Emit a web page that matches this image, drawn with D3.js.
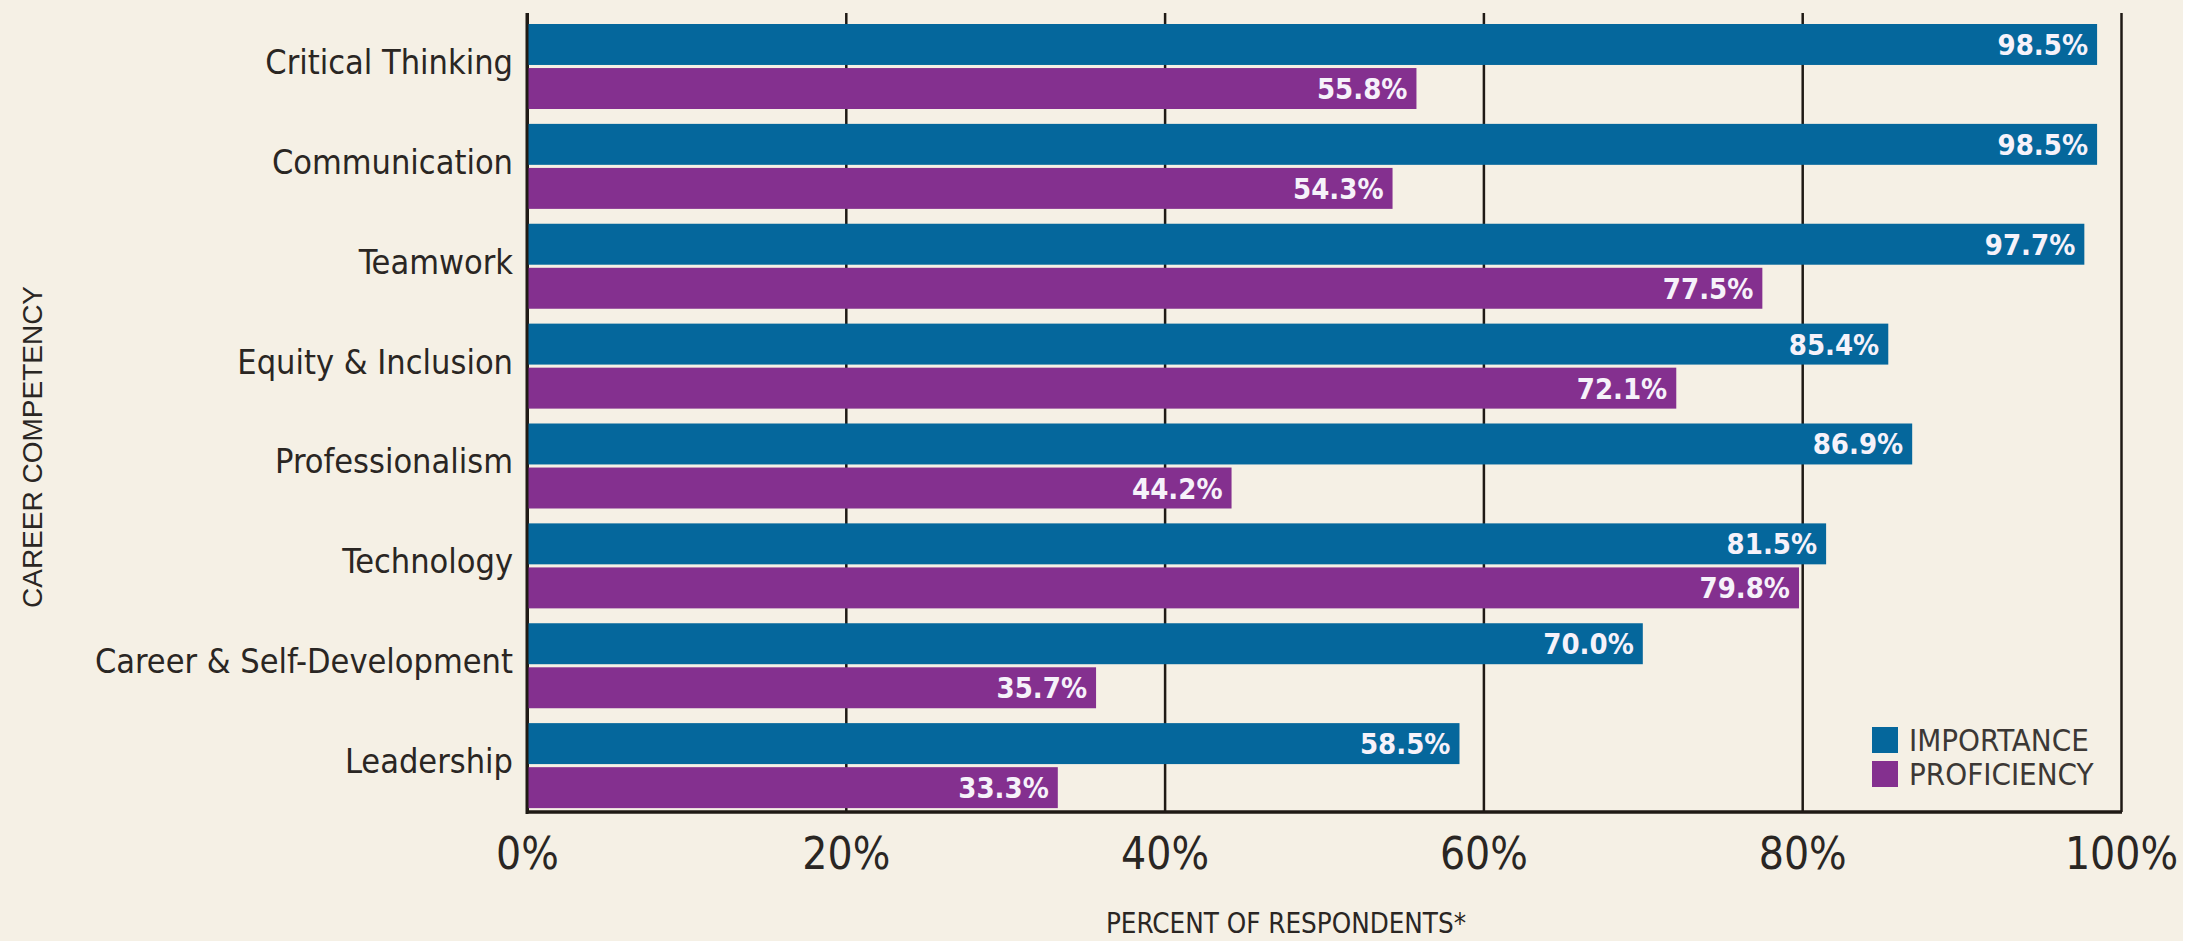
<!DOCTYPE html>
<html>
<head>
<meta charset="utf-8">
<script src="https://cdn.jsdelivr.net/npm/d3@7"></script>
<style>
  html, body { margin: 0; padding: 0; background: #ffffff; }
  svg { display: block; }
</style>
</head>
<body>
<svg id="chart" width="2198" height="941"></svg>
<script>
const categories = ["Critical Thinking", "Communication", "Teamwork", "Equity & Inclusion",
  "Professionalism", "Technology", "Career & Self-Development", "Leadership"];
const series = ["IMPORTANCE", "PROFICIENCY"];
const importance = [98.5, 98.5, 97.7, 85.4, 86.9, 81.5, 70.0, 58.5];
const proficiency = [55.8, 54.3, 77.5, 72.1, 44.2, 79.8, 35.7, 33.3];
const xTicks = [0, 20, 40, 60, 80, 100];
const xTitle = "PERCENT OF RESPONDENTS*";
const yTitle = "CAREER COMPETENCY";

(function () {
const colors = { "IMPORTANCE": "#05679c", "PROFICIENCY": "#84308f" };
const narrow = "'DejaVu Sans Condensed', 'Liberation Sans Narrow', 'Liberation Sans', sans-serif";
const ink = "#2a2623";
const lineInk = "#1f1a15";

const svg = d3.select("#chart");
svg.append("rect").attr("x", 0).attr("y", 0).attr("width", 2183).attr("height", 941).attr("fill", "#f5f0e5");

const pLeft = 527, pRight = 2121, pTop = 13, pBottom = 812;
const x = d3.scaleLinear().domain([0, 100]).range([pLeft, pRight]);
const y0 = d3.scaleBand().domain(categories).range([pTop, pBottom]).padding(0);
const y1 = d3.scaleBand().domain(series).range([11, 96]).paddingInner(0.07);

const rows = categories.map((c, i) => ({ cat: c, values: [
  { s: "IMPORTANCE", v: importance[i] }, { s: "PROFICIENCY", v: proficiency[i] } ] }));

// grid lines via x axis
const gx = svg.append("g").attr("transform", `translate(0,${pBottom})`)
  .call(d3.axisBottom(x).tickValues(xTicks).tickFormat(d => d + "%").tickSize(-(pBottom - pTop)).tickPadding(0));
gx.select(".domain").remove();
gx.selectAll(".tick line").attr("stroke", lineInk).attr("stroke-width", d => d === 0 ? 3 : 2.5);
gx.selectAll(".tick text")
  .attr("y", 57).attr("dy", 0)
  .attr("font-family", narrow).attr("font-size", 44).attr("fill", ink);

// bars
const groups = svg.append("g").selectAll("g").data(rows).join("g")
  .attr("transform", d => `translate(0,${y0(d.cat)})`);
groups.selectAll("rect").data(d => d.values).join("rect")
  .attr("x", x(0))
  .attr("y", d => y1(d.s))
  .attr("width", d => x(d.v) - x(0))
  .attr("height", y1.bandwidth())
  .attr("fill", d => colors[d.s]);
groups.selectAll("text").data(d => d.values).join("text")
  .attr("x", d => x(d.v) - 9)
  .attr("y", d => y1(d.s) + y1.bandwidth() / 2 + 10.5)
  .attr("text-anchor", "end")
  .attr("font-family", narrow).attr("font-weight", "bold").attr("font-size", 29)
  .attr("fill", "#f6f2fa")
  .text(d => d.v.toFixed(1) + "%");

// axis lines
svg.append("line").attr("x1", pLeft).attr("x2", pLeft).attr("y1", pTop).attr("y2", pBottom + 2)
  .attr("stroke", lineInk).attr("stroke-width", 3);
svg.append("line").attr("x1", pLeft - 1).attr("x2", pRight + 1).attr("y1", pBottom).attr("y2", pBottom)
  .attr("stroke", lineInk).attr("stroke-width", 3.5);

// category labels via y axis
const gy = svg.append("g").attr("transform", `translate(${pLeft},0)`)
  .call(d3.axisLeft(y0).tickSize(0).tickPadding(14));
gy.select(".domain").remove();
gy.selectAll(".tick text")
  .attr("dy", 0).attr("y", 11)
  .attr("font-family", narrow).attr("font-size", 34).attr("fill", ink);

// axis titles
svg.append("text").attr("x", 1286).attr("y", 933).attr("text-anchor", "middle")
  .attr("font-family", narrow).attr("font-size", 27.5).attr("fill", ink).text(xTitle);
svg.append("text").attr("transform", "translate(42,447) rotate(-90)").attr("text-anchor", "middle")
  .attr("font-family", "'Liberation Sans', Arial, sans-serif").attr("font-size", 28).attr("fill", ink).text(yTitle);

// legend
const lg = svg.append("g").attr("transform", "translate(1872,727)");
const li = lg.selectAll("g").data(series).join("g").attr("transform", (d, i) => `translate(0,${i * 34})`);
li.append("rect").attr("width", 26).attr("height", 26).attr("fill", d => colors[d]);
li.append("text").attr("x", 37).attr("y", 24)
  .attr("font-family", narrow).attr("font-size", 31).attr("fill", "#3c3835").text(d => d);
})();
</script>
</body>
</html>
